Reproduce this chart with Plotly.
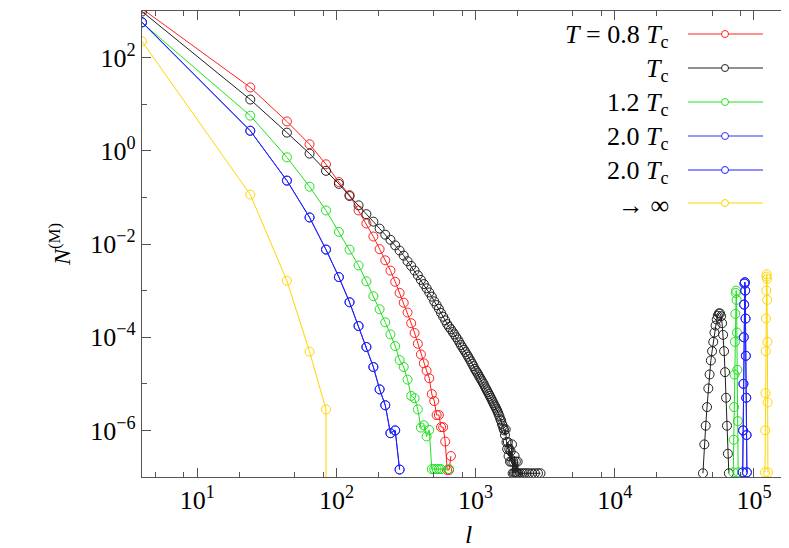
import plotly.graph_objects as go

# ---------------- data (log10 of N^(M)) ----------------
red_l = list(range(4, 665, 20))
red_log = [3.05, 1.36, 0.63, 0.14, -0.29, -0.67, -0.95, -1.28, -1.56, -1.84, -2.11, -2.35,
           -2.57, -2.81, -3.05, -3.26, -3.47, -3.70, -3.91, -4.14, -4.37, -4.56, -4.72, -4.88,
           -5.22, -5.37, -5.67, -5.67, -5.93, -5.93, -6.24, -6.85, -6.85, -6.55]

black_l = list(range(4, 2025, 20)) + [2084, 2164, 2244, 2324, 2424, 2544, 2664, 2804, 2924]
black_log = [2.99, 1.10, 0.39, -0.06, -0.43, -0.71, -0.97, -1.17, -1.36, -1.52, -1.67, -1.80,
             -1.91, -2.03, -2.14, -2.25, -2.37, -2.47, -2.57, -2.67, -2.77, -2.86, -2.95, -3.04,
             -3.13, -3.23, -3.31, -3.39, -3.48, -3.56, -3.64, -3.72, -3.78, -3.83, -3.89, -3.94,
             -4.00, -4.05, -4.11, -4.17, -4.22, -4.27, -4.32, -4.37, -4.42, -4.47, -4.52, -4.57,
             -4.62, -4.68, -4.72, -4.76, -4.80, -4.85, -4.89, -4.93, -4.97, -5.01, -5.06, -5.10,
             -5.14, -5.18, -5.22, -5.26, -5.30, -5.34, -5.38, -5.42, -5.46, -5.49, -5.53, -5.57,
             -5.61, -5.66, -5.70, -5.76, -5.79, -5.86, -5.90, -5.96, -6.00, -6.10, -5.98, -6.25,
             -6.40, -6.25, -6.55, -6.40, -6.67, -6.45, -6.67, -6.30, -6.92, -6.67, -6.92, -6.55,
             -6.92, -6.67, -6.92, -6.92, -6.67, -6.92,
             -6.92, -6.92, -6.92, -6.92, -6.92, -6.92, -6.92, -6.92, -6.92]
black_peak_l = list(range(43000, 66001, 1000))
black_peak_log = [-6.92, -6.3, -5.9, -5.5, -5.1, -4.8, -4.5, -4.3, -4.1, -3.9, -3.75, -3.62,
                  -3.54, -3.49, -3.49, -3.55, -3.7, -3.95, -4.3, -4.75, -5.3, -5.9, -6.5, -6.92]

green_l = list(range(4, 565, 20)) + [644]
green_log = [2.75, 0.755, -0.14, -0.77, -1.28, -1.74, -2.12, -2.46, -2.80, -3.12, -3.40, -3.68,
             -3.94, -4.19, -4.49, -4.64, -4.91, -5.26, -5.31, -5.55, -5.94, -5.89, -6.13, -5.99,
             -6.83, -6.83, -6.83, -6.83, -6.83, -6.83]
green_peak_l = list(range(71000, 77001, 500))
green_peak_log = [-6.9, -6.2, -5.5, -4.8, -4.1, -3.5, -3.05, -3.0, -3.2, -3.9, -4.7, -5.8, -6.9]

blue_l = list(range(4, 285, 20))
blue_log = [2.76, 0.43, -0.64, -1.43, -2.12, -2.71, -3.25, -3.76, -4.21, -4.64, -5.12, -5.46,
            -6.06, -6.00, -6.84]
blue_peak_l = list(range(83000, 89001, 500))
blue_peak_log = [-6.9, -6.0, -5.0, -4.0, -3.3, -2.85, -2.82, -3.0, -3.6, -4.4, -5.3, -6.1, -6.9]

yellow_l = [4, 24, 44, 64, 84, 84]
yellow_log = [2.35, -0.94, -2.79, -4.31, -5.55, -9.0]
yellow_peak_l = list(range(120000, 126001, 500))
yellow_peak_log = [-6.9, -6.0, -5.2, -4.3, -3.6, -3.0, -2.7, -2.65, -2.75, -3.2, -4.1, -5.4, -6.9]

legend_labels = ["<i>T</i> = 0.8 <i>T</i><sub>c</sub>", "<i>T</i><sub>c</sub>",
                 "1.2 <i>T</i><sub>c</sub>", "2.0 <i>T</i><sub>c</sub>",
                 "2.0 <i>T</i><sub>c</sub>", "<span style='font-size:26px'>→ ∞</span>"]
colors = ["#ff2020", "#202020", "#20e020", "#3030f0", "#2020ff", "#ffd500"]

series = [
    (red_l, red_log, None, None),
    (black_l, black_log, black_peak_l, black_peak_log),
    (green_l, green_log, green_peak_l, green_peak_log),
    (blue_l, blue_log, blue_peak_l, blue_peak_log),
    (blue_l, blue_log, blue_peak_l, blue_peak_log),
    (yellow_l, yellow_log, yellow_peak_l, yellow_peak_log),
]

fig = go.Figure()
for (lx, ly, px, py), col, name in zip(series, colors, legend_labels):
    xs = list(lx)
    ys = [10 ** v for v in ly]
    if px is not None:
        xs += [None] + list(px)
        ys += [None] + [10 ** v for v in py]
    fig.add_trace(go.Scatter(x=xs, y=ys, mode="lines+markers", name=name, showlegend=False,
                             line=dict(color=col, width=1),
                             marker=dict(symbol="circle-open", size=9, color=col,
                                         line=dict(width=1, color=col)),
                             connectgaps=False))

# ---------------- layout ----------------
W, H = 789, 548
L, R, T, B = 134, 2, 3, 79
pw, ph = W - L - R, H - T - B


def px2paper(x, y):
    return (x - L) / pw, (H - B - y) / ph


font = "Liberation Serif"
rows = [26, 60, 94, 128, 162, 195]
shapes = []
annotations = []
for yrow, col, name in zip(rows, colors, legend_labels):
    x0, yy = px2paper(680, yrow)
    x1, _ = px2paper(755, yrow)
    shapes.append(dict(type="line", xref="paper", yref="paper", x0=x0, x1=x1, y0=yy, y1=yy,
                       line=dict(color=col, width=1)))
    cx0, cy0 = px2paper(713.5, yrow - 3.5)
    cx1, cy1 = px2paper(720.5, yrow + 3.5)
    shapes.append(dict(type="circle", xref="paper", yref="paper", x0=cx0, x1=cx1, y0=cy1, y1=cy0,
                       line=dict(color=col, width=1), fillcolor="white"))
    tx, ty = px2paper(663, yrow + 2)
    annotations.append(dict(xref="paper", yref="paper", x=tx, y=ty, text=name, showarrow=False,
                            xanchor="right", yanchor="middle",
                            font=dict(family=font, size=26, color="black")))

x_major = [10, 100, 1000, 10000, 100000]
x_text = ["10<sup>1</sup>", "10<sup>2</sup>", "10<sup>3</sup>", "10<sup>4</sup>", "10<sup>5</sup>"]
x_minor = [m * 10 ** d for d in range(0, 6) for m in (2, 5, 8)]
y_major = [1e-6, 1e-4, 1e-2, 1, 100]
y_text = ["10<sup>−6</sup>", "10<sup>−4</sup>", "10<sup>−2</sup>", "10<sup>0</sup>", "10<sup>2</sup>"]
y_minor = [1e-7, 1e-5, 1e-3, 1e-1, 10, 1000]

axis_common = dict(showgrid=False, zeroline=False, showline=True, linecolor="#555",
                   linewidth=1.2, mirror="ticks", ticks="inside", ticklen=9, tickcolor="#555",
                   tickfont=dict(family=font, size=26, color="black"))

fig.update_layout(
    width=W, height=H, margin=dict(l=L, r=R, t=T, b=B),
    plot_bgcolor="white", paper_bgcolor="white", showlegend=False,
    font=dict(family=font, color="black"),
    shapes=shapes, annotations=annotations,
    xaxis=dict(type="log", range=[0.602, 5.295], tickmode="array", tickvals=x_major,
               ticktext=x_text,
               minor=dict(tickmode="array", tickvals=x_minor, ticks="inside", ticklen=5,
                          tickcolor="#555"),
               title=dict(text="<i>l</i>", font=dict(family=font, size=26, color="black"),
                          standoff=10),
               **axis_common),
    yaxis=dict(type="log", range=[-7.0, 3.0], tickmode="array", tickvals=y_major,
               ticktext=y_text,
               minor=dict(tickmode="array", tickvals=y_minor, ticks="inside", ticklen=5,
                          tickcolor="#555"),
               title=dict(text="<i>N</i><sup>(M)</sup>", font=dict(family=font, size=24,
                                                                   color="black"),
                          standoff=12),
               **axis_common),
)

fig.write_html("out.html")
